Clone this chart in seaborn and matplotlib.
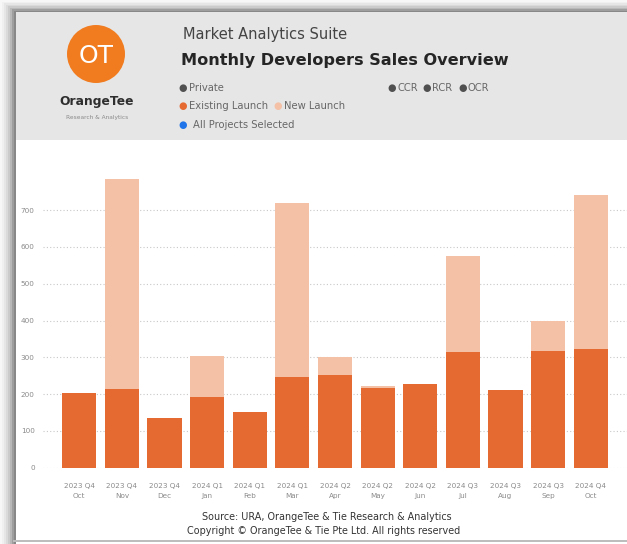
import matplotlib.pyplot as plt
import matplotlib.patches as patches
import pandas as pd
import seaborn as sns

# values
quarters = ["2023 Q4", "2023 Q4", "2023 Q4", "2024 Q1", "2024 Q1", "2024 Q1", "2024 Q2",
            "2024 Q2", "2024 Q2", "2024 Q3", "2024 Q3", "2024 Q3", "2024 Q4"]
months = ["Oct", "Nov", "Dec", "Jan", "Feb", "Mar", "Apr", "May", "Jun", "Jul", "Aug", "Sep", "Oct"]
existing_launch = [204, 213, 134, 192, 152, 246, 251, 217, 228, 314, 210, 317, 322]
new_launch = [0, 571, 0, 112, 0, 472, 49, 4, 0, 262, 0, 83, 418]
y_ticks = [0, 100, 200, 300, 400, 500, 600, 700]

dark_orange = "#E46A31"
light_orange = "#F4C0A6"

labels = [f"{q}\n{m}" for q, m in zip(quarters, months)]
df = pd.DataFrame({"period": labels, "existing": existing_launch, "new": new_launch})
df["total"] = df["existing"] + df["new"]

W, H = 627, 544
fig = plt.figure(figsize=(W / 100, H / 100), dpi=100)
fig.patch.set_facecolor("white")


def rect(x, y, w, h, color, z):
    # x, y, w, h in pixels from the top-left corner
    fig.add_artist(patches.Rectangle((x / W, 1 - (y + h) / H), w / W, h / H,
                                     transform=fig.transFigure, color=color, zorder=z, lw=0))


# shadow around the report tile (left + top gradient)
shades = ["#f7f7f7", "#f0f0f0", "#e6e6e6", "#dadada", "#cbcbcb", "#b8b8b8", "#9e9e9e", "#888888"]
for i, c in enumerate(shades):
    rect(i * 2, i * 1.5, W, 2, c, 0.2 + i * 0.01)
    rect(i * 2, i * 1.5, 2, H, c, 0.2 + i * 0.01)
rect(16, 12, W, H - 15, "white", 0.5)
rect(13, 540, W, 1.5, "#bdbdbd", 0.6)
# header band
rect(16, 12, W, 128, "#e6e6e6", 0.7)

# logo
logo = patches.Circle((96 / 100, (H - 54) / 100), 0.29, transform=fig.dpi_scale_trans,
                      color="#F17C20", zorder=2, lw=0)
fig.add_artist(logo)
fig.text(96 / W, 1 - 56 / H, "OT", color="white", fontsize=18, ha="center", va="center",
         zorder=3)
fig.text(97 / W, 1 - 102 / H, "OrangeTee", color="#2e2e2e", fontsize=8.8, fontweight="bold",
         ha="center", va="center", zorder=3)
fig.text(97 / W, 1 - 118 / H, "Research & Analytics", color="#8a8a8a", fontsize=4.2,
         ha="center", va="center", zorder=3)

# titles
fig.text(183 / W, 1 - 34 / H, "Market Analytics Suite", color="#444444", fontsize=10.5,
         va="center", zorder=3)
fig.text(181 / W, 1 - 61 / H, "Monthly Developers Sales Overview", color="#252525",
         fontsize=11.6, fontweight="bold", va="center", zorder=3)


def legend_item(cx, tx, y, color, text=None):
    fig.text(cx / W, 1 - y / H, "●", color=color, fontsize=7, ha="center", va="center", zorder=3)
    if text:
        fig.text(tx / W, 1 - y / H, text, color="#676767", fontsize=7.2, va="center", zorder=3)


legend_item(183, 189, 88, "#505050", "Private")
legend_item(392, 397, 88, "#505050", "CCR")
legend_item(427, 432, 88, "#505050", "RCR")
legend_item(463, 468, 88, "#505050", "OCR")
legend_item(183, 189, 106, dark_orange, "Existing Launch")
legend_item(278, 284, 106, light_orange, "New Launch")
legend_item(183, 193, 125, "#1E74E8", "All Projects Selected")

# chart
y0 = 467.7
px_per_unit = 0.368
ax = fig.add_axes([43 / W, (H - y0) / H, (W - 43) / W, 800 * px_per_unit / H], zorder=1)
ax.set_facecolor("none")
sns.barplot(data=df, x="period", y="total", color=light_orange, width=0.8, ax=ax,
            saturation=1, zorder=2)
sns.barplot(data=df, x="period", y="existing", color=dark_orange, width=0.8, ax=ax,
            saturation=1, zorder=3)
ax.set_ylim(0, 800)
ax.set_xlim(-0.85, len(labels) - 0.15)
ax.set_yticks(y_ticks)
ax.yaxis.grid(True, linestyle=(0, (1, 2)), color="#c8c8c8", linewidth=0.8)
ax.set_axisbelow(True)
for s in ax.spines.values():
    s.set_visible(False)
ax.tick_params(length=0, labelsize=5.2, colors="#8a8a8a")
ax.tick_params(axis="x", pad=11)
ax.tick_params(axis="y", pad=6)
for t in ax.get_xticklabels():
    t.set_linespacing(1.75)
ax.set_xlabel("")
ax.set_ylabel("")

# footer
fig.text(327 / W, 1 - 517 / H, "Source: URA, OrangeTee & Tie Research & Analytics",
         color="#333333", fontsize=6.9, ha="center", va="center")
fig.text(324 / W, 1 - 531 / H, "Copyright © OrangeTee & Tie Pte Ltd. All rights reserved",
         color="#333333", fontsize=6.9, ha="center", va="center")

fig.savefig("out.png", dpi=100)
